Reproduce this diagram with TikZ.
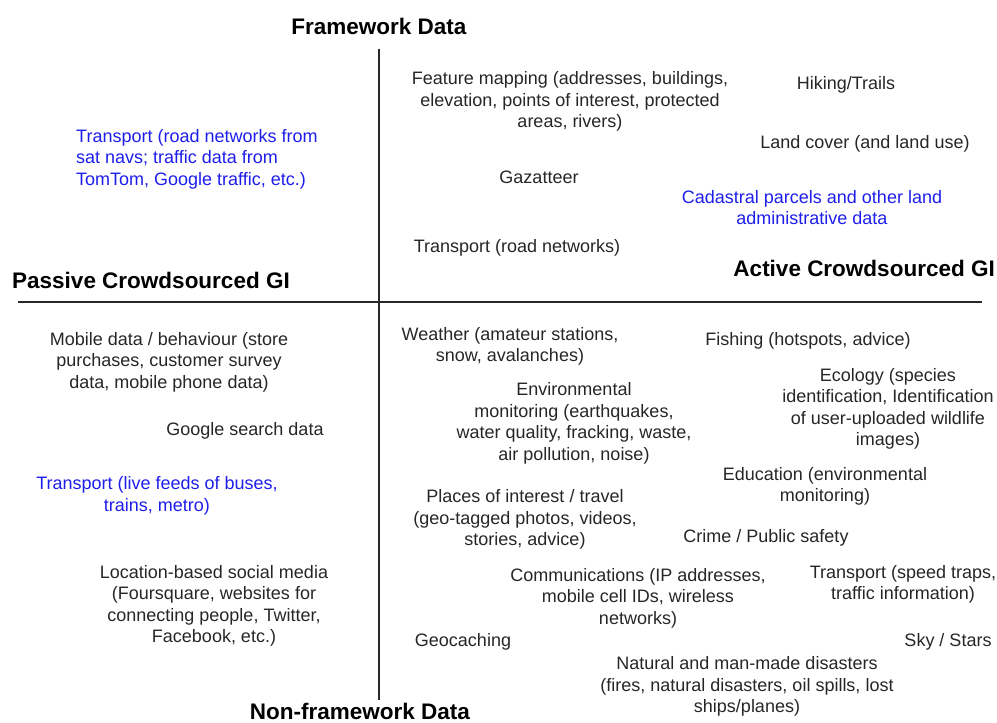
\documentclass[tikz,border=0pt]{standalone}
\usepackage{fontspec}
\setmainfont{Liberation Sans}
\definecolor{itemblue}{RGB}{30,30,235}
\definecolor{axisgray}{RGB}{40,40,40}
\begin{document}
\begin{tikzpicture}[x=1pt,y=-1pt,
  item/.style={inner sep=0pt,align=center,font=\fontsize{18}{21.5}\selectfont,text=black!85,yshift=-2pt},
  blueitem/.style={item,text=itemblue},
  header/.style={inner sep=0pt,font=\fontsize{22.5}{26}\selectfont\bfseries},
  axis/.style={line width=2pt,draw=axisgray}]
\useasboundingbox (0,0) rectangle (997,723);
% axes
\coordinate (vtop) at (379,49);
\coordinate (vbot) at (379,700);
\coordinate (hleft) at (18,302);
\coordinate (hright) at (982,302);
\draw[axis] (vtop) -- (vbot);
\draw[axis] (hleft) -- (hright);
% headers
\node[header] (fw) at (379,26) {Framework Data};
\node[header] (nfw) at (360,711) {Non-framework Data};
\node[header,anchor=west] (passive) at (12,280) {Passive Crowdsourced GI};
\node[header,anchor=east] (active) at (995,268) {Active Crowdsourced GI};
% top-left
\node[blueitem,align=left,anchor=west] (tl1) at (76,157) {Transport (road networks from\\sat navs; traffic data from\\TomTom, Google traffic, etc.)};
% top-right
\node[item] (feat) at (570,99.5) {Feature mapping (addresses, buildings,\\elevation, points of interest, protected\\areas, rivers)};
\node[item] (hike) at (846,83) {Hiking/Trails};
\node[item] (land) at (865,142) {Land cover (and land use)};
\node[item] (gaz) at (539,175) {Gazatteer};
\node[blueitem] (cad) at (812,205.5) {Cadastral parcels and other land\\administrative data};
\node[item] (troad) at (517,246) {Transport (road networks)};
% bottom-left
\node[item] (mobile) at (169,360) {Mobile data / behaviour (store\\purchases, customer survey\\data, mobile phone data)};
\node[item] (google) at (245,429) {Google search data};
\node[blueitem] (live) at (157,494) {Transport (live feeds of buses,\\trains, metro)};
\node[item] (social) at (214,604) {Location-based social media\\(Foursquare, websites for\\connecting people, Twitter,\\Facebook, etc.)};
% bottom-right
\node[item] (weather) at (510,344.5) {Weather (amateur stations,\\snow, avalanches)};
\node[item] (env) at (574,421.5) {Environmental\\monitoring (earthquakes,\\water quality, fracking, waste,\\air pollution, noise)};
\node[item] (places) at (525,517.5) {Places of interest / travel\\(geo-tagged photos, videos,\\stories, advice)};
\node[item] (geo) at (463,640) {Geocaching};
\node[item] (fish) at (808,339) {Fishing (hotspots, advice)};
\node[item] (eco) at (888,407) {Ecology (species\\identification, Identification\\of user-uploaded wildlife\\images)};
\node[item] (edu) at (825,484.5) {Education (environmental\\monitoring)};
\node[item] (crime) at (766,536) {Crime / Public safety};
\node[item] (comm) at (638,596) {Communications (IP addresses,\\mobile cell IDs, wireless\\networks)};
\node[item] (tspeed) at (903,582.5) {Transport (speed traps,\\traffic information)};
\node[item] (sky) at (948,640) {Sky / Stars};
\node[item] (dis) at (747,684.5) {Natural and man-made disasters\\(fires, natural disasters, oil spills, lost\\ships/planes)};
\end{tikzpicture}
\end{document}
